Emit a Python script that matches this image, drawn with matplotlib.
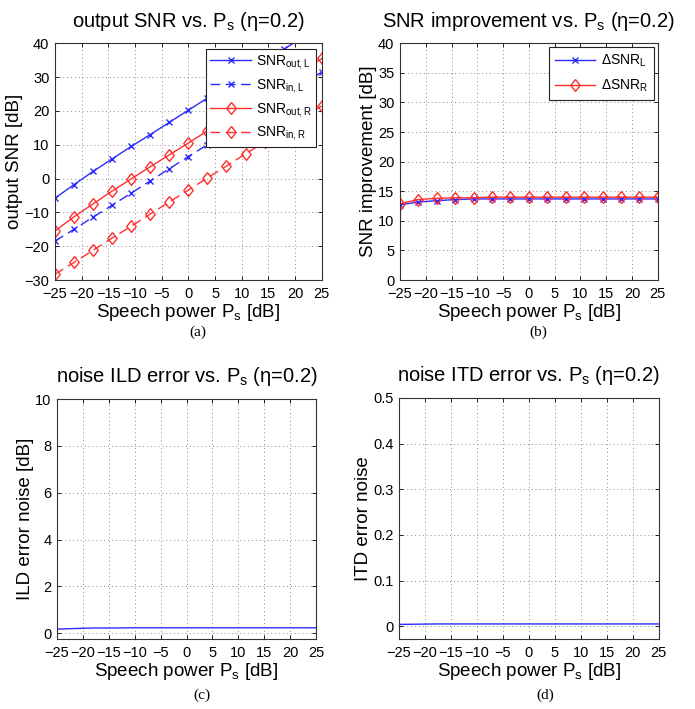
import numpy as np
import matplotlib
matplotlib.use("Agg")
import matplotlib.pyplot as plt
from matplotlib.ticker import MultipleLocator

plt.rcParams['font.family'] = ['Liberation Sans', 'DejaVu Sans']
plt.rcParams['mathtext.fontset'] = 'custom'
plt.rcParams['mathtext.rm'] = 'Liberation Sans'
plt.rcParams['mathtext.it'] = 'Liberation Sans:italic'

# ---------------- data ----------------
ps = [-25, -21.43, -17.86, -14.29, -10.71, -7.14, -3.57, 0,
      3.57, 7.14, 10.71, 14.29, 17.86, 21.43, 25]

snr_out_L = [-5.8, -1.8, 2.1, 5.8, 9.5, 13.0, 16.6, 20.2,
             23.8, 27.4, 31.0, 34.6, 38.2, 41.8, 45.4]
snr_in_L = [-18.5, -15.0, -11.4, -7.9, -4.3, -0.7, 2.9, 6.5,
            10.0, 13.6, 17.2, 20.8, 24.4, 27.9, 31.5]
snr_out_R = [-15.5, -11.3, -7.5, -3.7, -0.1, 3.5, 7.0, 10.5,
             14.1, 17.6, 21.2, 24.8, 28.3, 31.9, 35.5]
snr_in_R = [-28.3, -24.8, -21.2, -17.6, -14.1, -10.5, -6.9, -3.4,
            0.2, 3.7, 7.3, 10.8, 14.4, 18.0, 21.5]

dsnr_L = [12.7, 13.2, 13.4, 13.6, 13.7, 13.7, 13.7, 13.7,
          13.7, 13.7, 13.7, 13.7, 13.7, 13.7, 13.7]
dsnr_R = [12.9, 13.6, 13.8, 13.9, 13.9, 14.0, 14.0, 14.0,
          14.0, 14.0, 14.0, 14.0, 14.0, 14.0, 14.0]

ild_err = [0.17, 0.20, 0.22, 0.22, 0.23, 0.23, 0.23, 0.23,
           0.23, 0.23, 0.23, 0.23, 0.23, 0.23, 0.23]
itd_err = [0.004, 0.0045, 0.005, 0.005, 0.005, 0.005, 0.005, 0.005,
           0.005, 0.005, 0.005, 0.005, 0.005, 0.005, 0.005]

xticks = [-25, -20, -15, -10, -5, 0, 5, 10, 15, 20, 25]

BLUE = '#2b2bff'
RED = '#ff2f2f'
DIAMOND = [(0, 1), (0.8, 0), (0, -1), (-0.8, 0), (0, 1)]

fig = plt.figure(figsize=(6.95, 7.09), dpi=100)

ax_a = fig.add_axes([0.079, 0.605, 0.384, 0.334])
ax_b = fig.add_axes([0.5755, 0.605, 0.371, 0.334])
ax_c = fig.add_axes([0.082, 0.0987, 0.3727, 0.3385])
ax_d = fig.add_axes([0.574, 0.0987, 0.374, 0.34])

TICK_FS = 10.5
LAB_FS = 13.5
TIT_FS = 14.5


def style(ax, ylim, ystep, ylabel, title):
    ax.set_xlim(-25, 25)
    ax.set_ylim(*ylim)
    ax.set_xticks(xticks)
    ax.set_xticklabels([str(t).replace('-', '\u2212') for t in xticks])
    ax.yaxis.set_major_locator(MultipleLocator(ystep))
    ax.grid(True, linestyle=(0, (1, 3)), color='#888888', linewidth=0.7)
    ax.tick_params(direction='in', top=True, right=True, labelsize=TICK_FS,
                   length=3, width=0.6)
    ax.tick_params(axis='x', pad=5)
    ax.tick_params(axis='y', pad=4)
    for s in ax.spines.values():
        s.set_linewidth(0.8)
        s.set_color('#333333')
    ax.set_xlabel(r'Speech power P$_\mathrm{s}$ [dB]', fontsize=LAB_FS, labelpad=0.5)
    ax.set_ylabel(ylabel, fontsize=LAB_FS, labelpad=1)
    ax.set_title(title, fontsize=TIT_FS, pad=12)


# (a)
ax_a.plot(ps, snr_out_L, '-', color=BLUE, marker='x', ms=5, mew=1, lw=1,
          label=r'SNR$_\mathrm{out,L}$')
ax_a.plot(ps, snr_in_L, color=BLUE, ls=(0, (7, 4)), marker='x', ms=5, mew=1, lw=1,
          label=r'SNR$_\mathrm{in,L}$')
ax_a.plot(ps, snr_out_R, '-', color=RED, marker=DIAMOND, ms=8.5, mfc='none', mew=1, lw=1,
          label=r'SNR$_\mathrm{out,R}$')
ax_a.plot(ps, snr_in_R, color=RED, ls=(0, (7, 4)), marker=DIAMOND, ms=8.5, mfc='none', mew=1, lw=1,
          label=r'SNR$_\mathrm{in,R}$')
style(ax_a, (-30, 40), 10, 'output SNR [dB]',
      r'output SNR vs. P$_\mathrm{s}$ (η=0.2)')
leg = ax_a.legend(loc='upper right', fontsize=10, frameon=True, fancybox=False,
                  edgecolor='#222222', framealpha=1, handlelength=2.9,
                  borderaxespad=0.4, labelspacing=0.42, handletextpad=0.4,
                  borderpad=0.3)
leg.get_frame().set_linewidth(0.8)

# (b)
ax_b.plot(ps, dsnr_L, '-', color=BLUE, marker='x', ms=5, mew=1, lw=1,
          label=r'ΔSNR$_\mathrm{L}$')
ax_b.plot(ps, dsnr_R, '-', color=RED, marker=DIAMOND, ms=8.5, mfc='none', mew=1, lw=1,
          label=r'ΔSNR$_\mathrm{R}$')
style(ax_b, (0, 40), 5, 'SNR improvement [dB]',
      r'SNR improvement vs. P$_\mathrm{s}$ (η=0.2)')
leg = ax_b.legend(loc='upper right', fontsize=10, frameon=True, fancybox=False,
                  edgecolor='#222222', framealpha=1, handlelength=2.9,
                  borderaxespad=0.3, labelspacing=0.6, handletextpad=0.4,
                  borderpad=0.4)
leg.get_frame().set_linewidth(0.8)

# (c)
ax_c.plot(ps, ild_err, '-', color=BLUE, lw=1)
style(ax_c, (-0.25, 10), 2, 'ILD error noise [dB]',
      r'noise ILD error vs. P$_\mathrm{s}$ (η=0.2)')

# (d)
ax_d.plot(ps, itd_err, '-', color=BLUE, lw=1)
style(ax_d, (-0.028, 0.5), 0.1, 'ITD error noise',
      r'noise ITD error vs. P$_\mathrm{s}$ (η=0.2)')
ax_d.set_yticks([0, 0.1, 0.2, 0.3, 0.4, 0.5])
ax_d.set_yticklabels(['0', '0.1', '0.2', '0.3', '0.4', '0.5'])

# captions
for xc, yc, t in [(0.284, 0.531, '(a)'), (0.775, 0.531, '(b)'),
                  (0.29, 0.019, '(c)'), (0.785, 0.019, '(d)')]:
    fig.text(xc, yc, t, ha='center', va='center', fontsize=11,
             family=['Liberation Serif', 'DejaVu Serif'])

fig.savefig('out.png', dpi=100)
